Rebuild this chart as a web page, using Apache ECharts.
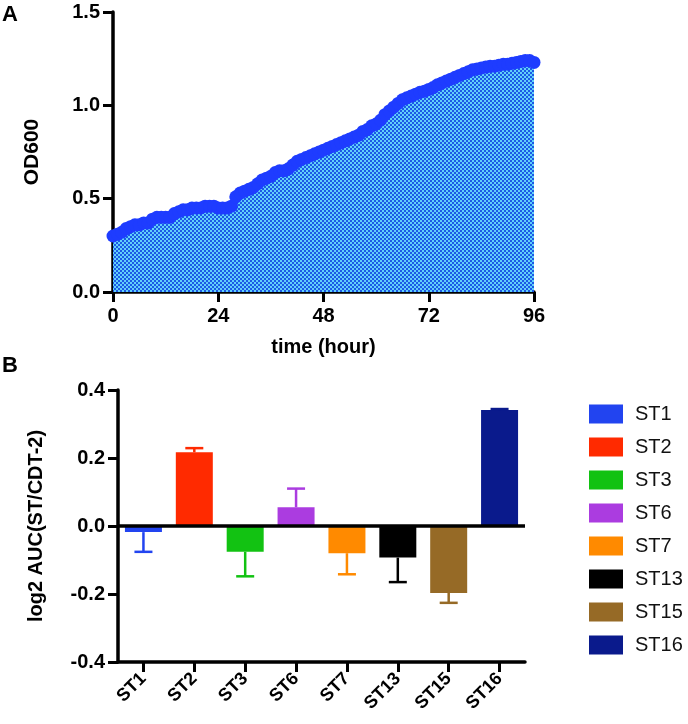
<!DOCTYPE html>
<html>
<head>
<meta charset="utf-8">
<script src="https://cdn.jsdelivr.net/npm/echarts@6/dist/echarts.min.js"></script>
<style>
html,body{margin:0;padding:0;background:#fff;}
#chart{width:688px;height:724px;}
</style>
</head>
<body>
<div id="chart"></div>
<script>
// ---- Panel A data ----
const hours = [0,1,2,3,4,5,6,7,8,9,10,11,12,13,14,15,16,17,18,19,20,21,22,23,24,25,26,27,28,29,30,31,32,33,34,35,36,37,38,39,40,41,42,43,44,45,46,47,48,49,50,51,52,53,54,55,56,57,58,59,60,61,62,63,64,65,66,67,68,69,70,71,72,73,74,75,76,77,78,79,80,81,82,83,84,85,86,87,88,89,90,91,92,93,94,95,96];
const od600 = [0.30,0.31,0.32,0.34,0.35,0.36,0.36,0.37,0.37,0.39,0.40,0.40,0.40,0.40,0.42,0.43,0.44,0.44,0.45,0.45,0.45,0.46,0.46,0.46,0.45,0.45,0.45,0.46,0.51,0.53,0.54,0.55,0.56,0.58,0.60,0.61,0.62,0.64,0.65,0.65,0.66,0.68,0.70,0.71,0.72,0.73,0.74,0.75,0.76,0.77,0.78,0.79,0.80,0.81,0.82,0.83,0.84,0.86,0.87,0.89,0.90,0.92,0.95,0.97,0.99,1.01,1.03,1.04,1.05,1.06,1.07,1.075,1.085,1.095,1.11,1.12,1.13,1.14,1.15,1.16,1.17,1.18,1.19,1.195,1.20,1.205,1.21,1.21,1.215,1.22,1.22,1.225,1.23,1.235,1.24,1.24,1.23];
const xTicksA = [0,24,48,72,96];
const yTicksA = [0.0,0.5,1.0,1.5];

// ---- Panel B data ----
const strains = ['ST1','ST2','ST3','ST6','ST7','ST13','ST15','ST16'];
const auc = [-0.018,0.217,-0.076,0.055,-0.080,-0.093,-0.197,0.341];
const errEnd = [-0.076,0.229,-0.148,0.110,-0.142,-0.165,-0.226,0.344];
const yTicksB = [-0.4,-0.2,0.0,0.2,0.4];
const strainColors = ['#2244f0','#ff2a00','#12c212','#ab3ce0','#ff8a00','#000000','#966a26','#0a1a8c'];

const FONT = '"Liberation Sans", Arial, Helvetica, sans-serif';

// checkered pattern for the area
const pat = document.createElement('canvas');
pat.width = 4; pat.height = 4;
const pc = pat.getContext('2d');
pc.fillStyle = '#1c5ae6'; pc.fillRect(0,0,4,4);
pc.fillStyle = '#62d0fa'; pc.fillRect(0,0,2,2); pc.fillRect(2,2,2,2);

const chart = echarts.init(document.getElementById('chart'), null, {renderer:'canvas'});

const axisLineStyle = {color:'#000', width:3.5};
const tickStyle = {color:'#000', width:3};
const tickLabel = {color:'#000', fontFamily:FONT, fontWeight:'bold', fontSize:20};

const barSeries = strains.map((s,i)=>({
  name: s,
  type: 'bar',
  xAxisIndex: 1, yAxisIndex: 1,
  barWidth: 37,
  barGap: '-100%',
  itemStyle: {color: strainColors[i]},
  data: strains.map((_,j)=> j===i ? auc[i] : '-'),
  z: 2,
  markLine: i===0 ? {
    silent:true, symbol:['none','none'], label:{show:false},
    lineStyle:{color:'#000', width:3.5, type:'solid'},
    data:[{yAxis:0}], z: 5
  } : undefined
}));

const option = {
  animation: false,
  backgroundColor: '#fff',
  graphic: [
    {type:'text', left:2, top:4, style:{text:'A', font:'bold 22px '+FONT, fill:'#000'}},
    {type:'text', left:2, top:355, style:{text:'B', font:'bold 22px '+FONT, fill:'#000'}}
  ],
  legend: {
    orient:'vertical',
    left: 584, top: 399,
    itemWidth: 34, itemHeight: 19, itemGap: 13,
    icon: 'rect',
    data: strains,
    textStyle: {color:'#111', fontFamily:FONT, fontSize:20, padding:[0,0,0,7]}
  },
  grid: [
    {left:113, top:12, width:421, height:280},
    {left:118, top:390, width:407, height:272}
  ],
  xAxis: [
    {
      gridIndex:0, type:'value', min:0, max:96, interval:24,
      name:'time (hour)', nameLocation:'middle', nameGap:45,
      nameTextStyle:{color:'#000', fontFamily:FONT, fontWeight:'bold', fontSize:20},
      axisLine:{show:true, onZero:false, lineStyle:axisLineStyle},
      axisTick:{show:true, length:10, lineStyle:tickStyle},
      axisLabel:Object.assign({margin:14, formatter:(v)=> xTicksA.includes(v)? String(v):''}, tickLabel),
      splitLine:{show:false}
    },
    {
      gridIndex:1, type:'category', data:strains,
      axisLine:{show:true, onZero:false, lineStyle:axisLineStyle},
      axisTick:{show:true, alignWithLabel:true, length:10, lineStyle:tickStyle},
      axisLabel:{interval:0, rotate:45, margin:14, color:'#000', fontFamily:FONT, fontWeight:'bold', fontSize:18},
      splitLine:{show:false}
    }
  ],
  yAxis: [
    {
      gridIndex:0, type:'value', min:0, max:1.5, interval:0.5,
      name:'OD600', nameLocation:'middle', nameGap:70,
      nameTextStyle:{color:'#000', fontFamily:FONT, fontWeight:'bold', fontSize:21},
      axisLine:{show:true, lineStyle:axisLineStyle},
      axisTick:{show:true, length:10, lineStyle:tickStyle},
      axisLabel:Object.assign({margin:13, formatter:(v)=> v.toFixed(1)}, tickLabel),
      splitLine:{show:false}
    },
    {
      gridIndex:1, type:'value', min:-0.4, max:0.4, interval:0.2,
      name:'log2 AUC(ST/CDT-2)', nameLocation:'middle', nameGap:72,
      nameTextStyle:{color:'#000', fontFamily:FONT, fontWeight:'bold', fontSize:20},
      axisLine:{show:true, onZero:false, lineStyle:axisLineStyle},
      axisTick:{show:true, length:10, lineStyle:tickStyle},
      axisLabel:Object.assign({margin:13, formatter:(v)=> {const r=Math.round(v*10)/10; return (r===0?0:r).toFixed(1);}}, tickLabel),
      splitLine:{show:false}
    }
  ],
  series: [
    {
      type:'line', xAxisIndex:0, yAxisIndex:0,
      data: hours.map((h,i)=>[h, od600[i]]),
      symbol:'circle', symbolSize:13, showAllSymbol:true,
      itemStyle:{color:'#1e3cff'},
      lineStyle:{color:'#1e3cff', width:5},
      areaStyle:{color:{image:pat, repeat:'repeat'}, opacity:1},
      z: 3
    },
    ...barSeries,
    {
      type:'custom', name:'err', xAxisIndex:1, yAxisIndex:1,
      data: strains.map((_,i)=>[i, auc[i], errEnd[i]]),
      z: 4,
      renderItem: (params, api)=>{
        const x = api.value(0);
        const p0 = api.coord([x, api.value(1)]);
        const p1 = api.coord([x, api.value(2)]);
        const c = strainColors[params.dataIndex];
        const half = 9;
        return {type:'group', children:[
          {type:'line', shape:{x1:p0[0], y1:p0[1], x2:p1[0], y2:p1[1]}, style:{stroke:c, lineWidth:2.5}},
          {type:'line', shape:{x1:p1[0]-half, y1:p1[1], x2:p1[0]+half, y2:p1[1]}, style:{stroke:c, lineWidth:2.5}}
        ]};
      }
    }
  ]
};
chart.setOption(option);
</script>
</body>
</html>
